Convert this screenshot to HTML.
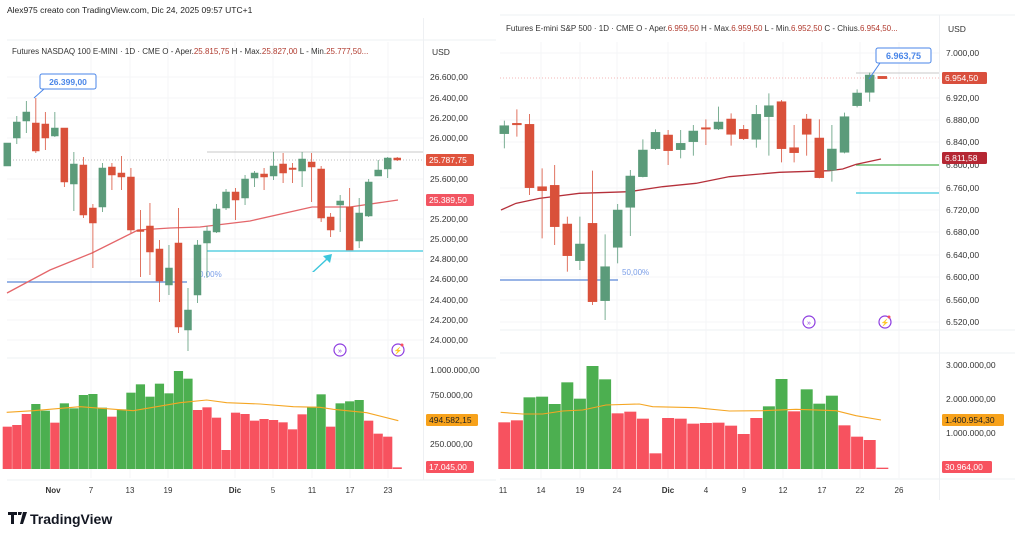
<!DOCTYPE html>
<html><head><meta charset="utf-8">
<style>
html,body{margin:0;padding:0;background:#fff;}
svg{display:block;font-family:"Liberation Sans",sans-serif;}
</style></head><body>
<svg id="s" width="1024" height="538" viewBox="0 0 1024 538" xmlns="http://www.w3.org/2000/svg">
<rect width="1024" height="538" fill="#fff"/>
<text x="7" y="13" font-size="8.5" fill="#222">Alex975 creato con TradingView.com, Dic 24, 2025 09:57 UTC+1</text>
<g stroke="#eef0f3" stroke-width="1">
<line x1="7" y1="40" x2="496" y2="40"/>
<line x1="423.5" y1="18" x2="423.5" y2="480"/>
<line x1="7" y1="358" x2="496" y2="358"/>
<line x1="7" y1="480" x2="496" y2="480"/>
<line x1="500" y1="15" x2="1015" y2="15"/>
<line x1="939.5" y1="15" x2="939.5" y2="500"/>
<line x1="500" y1="330" x2="1015" y2="330"/>
<line x1="500" y1="353" x2="1015" y2="353"/>
<line x1="500" y1="479" x2="1015" y2="479"/>
</g>
<g id="grid" stroke="#f4f5f7" stroke-width="1"></g>
<text x="12" y="54" font-size="8" fill="#333">Futures NASDAQ 100 E-MINI · 1D · CME  O - Aper.<tspan fill="#b03a2e">25.815,75</tspan>  H - Max.<tspan fill="#b03a2e">25.827,00</tspan>  L - Min.<tspan fill="#b03a2e">25.777,50...</tspan></text>
<text x="432" y="55" font-size="8.5" fill="#333">USD</text>
<text x="506" y="31" font-size="8" fill="#333">Futures E-mini S&amp;P 500 · 1D · CME  O - Aper.<tspan fill="#b03a2e">6.959,50</tspan>  H - Max.<tspan fill="#b03a2e">6.959,50</tspan>  L - Min.<tspan fill="#b03a2e">6.952,50</tspan>  C - Chius.<tspan fill="#b03a2e">6.954,50...</tspan></text>
<text x="948" y="32" font-size="8.5" fill="#333">USD</text>
<g id="draw"></g>
<g font-size="8.5" fill="#333" id="axis"></g>
<g font-size="8" fill="#333" font-weight="bold">
<text x="53" y="493" text-anchor="middle">Nov</text><text x="235" y="493" text-anchor="middle">Dic</text><text x="668" y="493" text-anchor="middle">Dic</text>
</g>
<g font-size="8" fill="#333" text-anchor="middle">
<text x="91" y="493">7</text><text x="130" y="493">13</text><text x="168" y="493">19</text><text x="273" y="493">5</text><text x="312" y="493">11</text><text x="350" y="493">17</text><text x="388" y="493">23</text>
<text x="503" y="493">11</text><text x="541" y="493">14</text><text x="580" y="493">19</text><text x="617" y="493">24</text><text x="706" y="493">4</text><text x="744" y="493">9</text><text x="783" y="493">12</text><text x="822" y="493">17</text><text x="860" y="493">22</text><text x="899" y="493">26</text>
</g>
<g transform="translate(8,512)">
<path d="M0 0h9v3h-3v9h-3v-9h-3z M10 0h4l-1 3h-3z M15 0h4l-4 12h-3z" fill="#131722"/>
<text x="22" y="12" font-size="14" font-weight="bold" fill="#131722">TradingView</text>
</g>
</svg>
<script>
var NS="http://www.w3.org/2000/svg",D=document.getElementById("draw"),A=document.getElementById("axis"),G=document.getElementById("grid");
function el(t,a,p){var e=document.createElementNS(NS,t);for(var k in a)e.setAttribute(k,a[k]);(p||D).appendChild(e);return e;}
function txt(x,y,s,a,p){var e=el("text",Object.assign({x:x,y:y},a||{}),p||A);e.textContent=s;return e;}
[91,130,168,235,273,312,350,388,541,580,617,668,706,744,783,822,860,899].forEach(function(x){el("line",{x1:x,y1:42,x2:x,y2:478},G);});
[77,98,118,138,179,219,239,259,279,300,320,340].forEach(function(y){el("line",{x1:7,y1:y,x2:423,y2:y},G);});
[53,98,120,142,188,210,232,255,277,300,322].forEach(function(y){el("line",{x1:500,y1:y,x2:939,y2:y},G);});
var GR="#5b9b7a",RD="#d9513a";
var L=[["g",143,166,143,166],["g",122,138,116,144],["g",112,121,101,133],["r",123,151,98,153],["r",124,138,112,150],["g",128,136,112,137],["r",128,182,128,187],["g",164,184,152,211],["r",165,215,157,218],["r",208,223,204,268],["g",168,207,163,212],["r",167,175,163,190],["r",173,177,156,190],["r",177,230,168,233],["r",230,231,210,277],["r",226,252,203,275],["r",249,281,240,302],["g",268,285,245,295],["r",243,327,208,333],["g",310,330,288,351],["g",245,295,240,303],["g",231,243,226,278],["g",209,232,204,233],["g",192,208,189,210],["r",192,200,188,220],["g",179,198,175,205],["g",173,178,171,187],["r",174,177,168,190],["g",166,176,152,180],["r",164,173,153,183],["r",168,169,163,183],["g",159,171,152,187],["r",162,167,153,202],["r",169,218,166,222],["r",217,230,213,237],["g",201,205,195,232],["r",207,250,188,250],["g",213,241,198,248],["g",182,216,179,217],["g",170,176,160,176],["g",158,169,157,178],["r",158,160,157,161]];
var LV=[500,495,462,432,452,488,430,445,405,402,443,470,448,398,373,410,371,400,333,356,450,442,473,570,458,462,482,477,480,487,508,463,440,403,500,430,424,420,482,521,530,622];
var LVc="rrrggrggggg"+"r"+"gggggggg"+"rrrrrrrrrrrr"+"gg"+"r"+"ggg"+"rrrr";
el("line",{x1:7,y1:160,x2:423,y2:160,stroke:"#aaa","stroke-dasharray":"1 2","stroke-width":0.8});
el("line",{x1:207,y1:152,x2:423,y2:152,stroke:"#c8c8c8","stroke-width":1});
el("line",{x1:207,y1:251,x2:423,y2:251,stroke:"#3cc6dc","stroke-width":1.2});
el("line",{x1:7,y1:282,x2:187,y2:282,stroke:"#5b87d6","stroke-width":1.3});
txt(199,277,"0,00%",{"font-size":8,fill:"#7a9ee8"},D);
el("polyline",{points:"7,293 50,270 92,253 138,230 170,228 200,227 250,221 312,207 350,207 398,200",fill:"none",stroke:"#e4666a","stroke-width":1.3});
function candles(arr,x0,dx,w){arr.forEach(function(c,i){var x=x0+i*dx,col=c[0]=="g"?GR:RD;
el("line",{x1:x,y1:c[3],x2:x,y2:c[4],stroke:col,"stroke-width":0.8});
el("rect",{x:x-w/2,y:c[1],width:w,height:Math.max(1.5,c[2]-c[1]),fill:col,stroke:col,"stroke-width":0.5});});}
candles(L,7.3,9.51,7);
LV.forEach(function(t,i){var x=7.3+i*9.51,y=260+t/3;el("rect",{x:x-4.6,y:y,width:9.2,height:469-y,fill:LVc[i]=="g"?"#4caf50":"#f7525f"});});
var lm=[[20,457],[100,452],[240,440],[400,452],[540,428],[620,420],[680,428],[780,432],[880,440],[960,442],[1000,448],[1100,458],[1195,482]].map(function(p){return (p[0]/3)+","+(260+p[1]/3);}).join(" ");
el("polyline",{points:lm,fill:"none",stroke:"#f5a623","stroke-width":1.1});
el("path",{d:"M312 272 L326 259 L323 256 L332 254 L330 263 L327 260 L314 272 Z",fill:"#3cc6dc"});
el("line",{x1:34,y1:98,x2:44,y2:89,stroke:"#4a86e8","stroke-width":1});
el("rect",{x:40,y:74,width:56,height:15,rx:2,fill:"#fff",stroke:"#4a86e8","stroke-width":1});
txt(68,85,"26.399,00",{"font-size":8.5,fill:"#4a86e8","text-anchor":"middle","font-weight":"bold"},D);
var R=[["g",377,401,362,445],["r",370,373,328,410],["r",373,563,342,585],["r",560,572,505,715],["r",556,680,495,735],["r",672,767,650,815],["g",732,782,650,810],["r",670,905,512,915],["g",800,902,703,960],["g",630,742,612,790],["g",528,622,510,708],["g",450,530,418,532],["g",397,446,388,450],["r",405,452,390,495],["g",430,449,390,475],["g",393,425,375,467],["r",383,385,358,435],["g",366,387,320,390],["r",357,403,340,437],["r",388,416,375,420],["g",343,418,315,443],["g",317,350,280,467],["r",305,446,300,487],["r",443,458,375,487],["r",357,403,342,467],["r",414,533,358,535],["g",447,511,375,545],["g",350,457,338,460],["g",279,317,268,322],["g",225,277,218,305],["r",229,236,229,236]].map(function(c){return [c[0],c[1]/3,c[2]/3,c[3]/3,c[4]/3];});
el("line",{x1:500,y1:78,x2:939,y2:78,stroke:"#f0a0a0","stroke-dasharray":"1 2","stroke-width":0.8});
el("line",{x1:856,y1:73,x2:939,y2:73,stroke:"#c8c8c8","stroke-width":1});
el("line",{x1:856,y1:165,x2:939,y2:165,stroke:"#4caf50","stroke-width":1.2});
el("line",{x1:856,y1:193,x2:939,y2:193,stroke:"#3cc6dc","stroke-width":1.2});
el("line",{x1:500,y1:280,x2:618,y2:280,stroke:"#5b87d6","stroke-width":1.3});
txt(622,275,"50,00%",{"font-size":8,fill:"#7a9ee8"},D);
var rm=[[15,630],[60,610],[130,595],[250,580],[400,575],[500,560],[600,550],[700,530],[850,517],[1000,512],[1040,507],[1080,493],[1155,477]].map(function(p){return (496+p[0]/3)+","+(p[1]/3);}).join(" ");
el("polyline",{points:rm,fill:"none",stroke:"#b5303a","stroke-width":1.3});
candles(R,504.3,12.6,9);
var RV=[247,241,172,170,192,127,176,78,118,220,215,236,340,234,236,251,249,248,257,282,234,199,117,214,148,191,167,256,290,300,383];
var RVc="rr"+"ggggggg"+"rrrrrrrrrrrr"+"gg"+"r"+"ggg"+"rrrr";
RV.forEach(function(t,i){var x=504.3+i*12.6,y=340+t/3;el("rect",{x:x-6,y:y,width:12,height:469-y,fill:RVc[i]=="g"?"#4caf50":"#f7525f"});});
var vm=[[14,217],[80,222],[140,222],[200,213],[260,210],[330,195],[430,192],[470,200],[600,203],[700,213],[800,212],[900,208],[1020,212],[1080,227],[1155,240]].map(function(p){return (496+p[0]/3)+","+(340+p[1]/3);}).join(" ");
el("polyline",{points:vm,fill:"none",stroke:"#f5a623","stroke-width":1.1});
el("line",{x1:869,y1:79,x2:880,y2:63,stroke:"#4a86e8","stroke-width":1});
el("rect",{x:876,y:48,width:55,height:15,rx:2,fill:"#fff",stroke:"#4a86e8","stroke-width":1});
txt(903.5,59,"6.963,75",{"font-size":9,fill:"#4a86e8","text-anchor":"middle","font-weight":"bold"},D);
function icon(x,y,s){el("circle",{cx:x,cy:y,r:6,fill:"#fff",stroke:"#8e3ee0","stroke-width":1.2});txt(x,y+3,s,{"font-size":7,fill:"#8e3ee0","text-anchor":"middle"},D);}
icon(340,350,"»");icon(398,350,"⚡");icon(809,322,"»");icon(885,322,"⚡");
el("circle",{cx:402,cy:345,r:1.5,fill:"#f7525f"});el("circle",{cx:889,cy:317,r:1.5,fill:"#f7525f"});
[["26.600,00",77],["26.400,00",98],["26.200,00",118],["26.000,00",138],["25.600,00",179],["25.200,00",219],["25.000,00",239],["24.800,00",259],["24.600,00",279],["24.400,00",300],["24.200,00",320],["24.000,00",340],["1.000.000,00",370],["750.000,00",395],["250.000,00",444]].forEach(function(a){txt(430,a[1]+3,a[0]);});
[["7.000,00",53],["6.920,00",98],["6.880,00",120],["6.840,00",142],["6.800,00",165],["6.760,00",188],["6.720,00",210],["6.680,00",232],["6.640,00",255],["6.600,00",277],["6.560,00",300],["6.520,00",322],["3.000.000,00",365],["2.000.000,00",399],["1.000.000,00",433]].forEach(function(a){txt(946,a[1]+3,a[0]);});
function tag(x,y,w,s,bg,fg){el("rect",{x:x,y:y-6,width:w,height:12,rx:1.5,fill:bg},A);txt(x+3,y+3,s,{fill:fg||"#fff"});}
tag(426,160,48,"25.787,75","#e0533d");tag(426,200,48,"25.389,50","#f25562");
tag(426,420,52,"494.582,15","#f7a21b","#222");tag(426,467,48,"17.045,00","#f7525f");
tag(942,78,45,"6.954,50","#d94f3d");tag(942,158,45,"6.811,58","#b52733");
tag(942,420,62,"1.400.954,30","#f7a21b","#222");tag(942,467,50,"30.964,00","#f7525f");
</script>
</body></html>
